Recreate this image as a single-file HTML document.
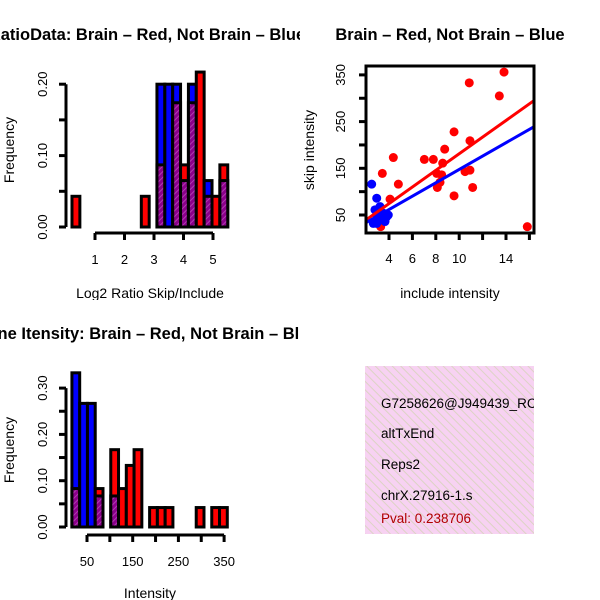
<!DOCTYPE html>
<html><head><meta charset="utf-8">
<style>
html,body{margin:0;padding:0;background:#fff;}
svg{display:block;font-family:"Liberation Sans",sans-serif;}
</style></head>
<body>
<svg id="fig" width="600" height="600" viewBox="0 0 600 600" xmlns="http://www.w3.org/2000/svg">
<defs>
  <pattern id="hatch" patternUnits="userSpaceOnUse" width="4" height="4" patternTransform="rotate(45)">
    <rect width="4" height="4" fill="#8b008b"/>
    <line x1="0" y1="0" x2="0" y2="4" stroke="#b03cb0" stroke-width="2"/>
  </pattern>
  <pattern id="pinkhatch" patternUnits="userSpaceOnUse" width="6" height="6" patternTransform="rotate(-45)">
    <rect width="6" height="6" fill="#f7d2f2"/>
    <line x1="0" y1="0" x2="0" y2="6" stroke="#dcd3c4" stroke-width="2"/>
  </pattern>
  <clipPath id="clipL1"><rect x="0" y="0" width="300" height="300"/></clipPath>
  <clipPath id="clipL2"><rect x="0" y="300" width="300" height="300"/></clipPath>
  <clipPath id="clipSc"><rect x="366" y="66" width="168" height="167"/></clipPath>
  <clipPath id="clipInfo"><rect x="365" y="366" width="169" height="168"/></clipPath>
</defs>
<g id="p1" clip-path="url(#clipL1)"></g>
<g id="p2"></g>
<g id="p3" clip-path="url(#clipL2)"></g>
<g id="p4">
  <rect x="365" y="366" width="169" height="168" fill="url(#pinkhatch)"/>
  <g clip-path="url(#clipInfo)" font-size="13.5">
    <text x="381" y="408" fill="#000">G7258626@J949439_RC</text>
    <text x="381" y="438" fill="#000">altTxEnd</text>
    <text x="381" y="469" fill="#000">Reps2</text>
    <text x="381" y="500" fill="#000">chrX.27916-1.s</text>
    <text x="381" y="523" fill="#b00000">Pval: 0.238706</text>
  </g>
</g>
</svg>
<script>
// ---- Panel 1 data: ratio histogram ----
const ratioBinStarts = [0.22, 2.57, 3.1, 3.367, 3.633, 3.9, 4.167, 4.433, 4.7, 4.967, 5.233];
const ratioBinWidth = 0.267;
const ratioRed  = [0.043, 0.043, 0.087, 0, 0.174, 0.087, 0.174, 0.217, 0.043, 0.043, 0.087];
const ratioBlue = [0, 0, 0.2, 0.2, 0.2, 0.065, 0.2, 0, 0.065, 0, 0.065];
const ratioYTicks = [0, 0.05, 0.10, 0.15, 0.20];
const ratioYLabels = ["0.00", "", "0.10", "", "0.20"];
const ratioXTicks = [1, 2, 3, 4, 5];

// ---- Panel 3 data: intensity histogram ----
const intBinStart = 17;
const intBinWidth = 17;
const intRed  = [0.083, 0, 0, 0.083, 0, 0.167, 0.083, 0.133, 0.167, 0, 0.042, 0.042, 0.042, 0, 0, 0, 0.042, 0, 0.042, 0.042];
const intBlue = [0.333, 0.267, 0.267, 0.067, 0, 0.067, 0, 0, 0, 0, 0, 0, 0, 0, 0, 0, 0, 0, 0, 0];
const intYTicks = [0, 0.05, 0.10, 0.15, 0.20, 0.25, 0.30];
const intYLabels = ["0.00", "", "0.10", "", "0.20", "", "0.30"];
const intXTicks = [50, 100, 150, 200, 250, 300, 350];
const intXLabels = ["50", "", "150", "", "250", "", "350"];

// ---- Panel 2 data: scatter ----
const redX = [3.29, 3.43, 4.37, 4.8, 4.09, 7.02, 7.79, 8.08, 8.59, 8.76, 8.13, 8.36, 8.5, 9.56, 9.56, 10.5, 10.92, 10.92, 10.86, 11.15, 13.43, 13.83, 15.82];
const redY = [25, 139, 173, 116, 84, 169, 169, 139, 161, 191, 109, 120, 136, 228, 91, 143, 146, 209, 333, 109, 305, 356, 25];
const blueX = [2.52, 2.95, 2.8, 3.23, 3.51, 3.8, 2.66, 3.09, 3.66, 3.94, 3.37, 2.95, 3.51, 3.2, 3.0];
const blueY = [116, 86, 61, 68, 54, 46, 32, 39, 36, 50, 46, 32, 39, 55, 45];
const redFit = [3.2, 17.8];   // intercept, slope
const blueFit = [4.45, 14.31];
const scXTicks = [4, 6, 8, 10, 12, 14, 16];
const scXLabels = ["4", "6", "8", "10", "", "14", ""];
const scYTicks = [50, 100, 150, 200, 250, 300, 350];
const scYLabels = ["50", "", "150", "", "250", "", "350"];

const NS = "http://www.w3.org/2000/svg";
const TICKFS = 13, AXFS = 14, TITLEFS = 16.5;
function mk(parent, tag, attrs, text) {
  const e = document.createElementNS(NS, tag);
  for (const k in attrs) e.setAttribute(k, attrs[k]);
  if (text !== undefined) e.textContent = text;
  parent.appendChild(e);
  return e;
}

function drawHist(g, starts, width, red, blue, xf, yf) {
  for (let i = 0; i < red.length; i++) {
    const x0 = xf(starts[i]), x1 = xf(starts[i] + width);
    const r = red[i], b = blue[i];
    const mx = Math.max(r, b), mn = Math.min(r, b);
    if (mx <= 0) continue;
    const col = r >= b ? "#ff0000" : "#0000ff";
    const bar = mk(g, "rect", {x: x0, y: yf(mx), width: x1 - x0, height: yf(0) - yf(mx), fill: col, stroke: "#000", "stroke-width": 3});
    
    
    if (mn > 0) {
      const ov = mk(g, "rect", {x: x0, y: yf(mn), width: x1 - x0, height: yf(0) - yf(mn), fill: "url(#hatch)", stroke: "#000", "stroke-width": 3});
      
      
    }
  }
}

function yAxis(g, xpos, ticks, labels, yf, tl) {
  const ax = mk(g, "line", {x1: xpos, x2: xpos, y1: yf(ticks[0]), y2: yf(ticks[ticks.length-1]), stroke: "#000", "stroke-width": 3});
  
  
  ticks.forEach((t, i) => {
    mk(g, "line", {x1: xpos - tl, x2: xpos, y1: yf(t), y2: yf(t), stroke: "#000", "stroke-width": 3});
    if (labels[i]) {
      const tx = mk(g, "text", {x: xpos - 19, y: yf(t), "font-size": TICKFS, "text-anchor": "middle", transform: `rotate(-90 ${xpos-19} ${yf(t)})`}, labels[i]);
      
      
    }
  });
}
function xAxis(g, ypos, ticks, labels, xf, tl) {
  const ax = mk(g, "line", {x1: xf(ticks[0]), x2: xf(ticks[ticks.length-1]), y1: ypos, y2: ypos, stroke: "#000", "stroke-width": 3});
  
  
  ticks.forEach((t, i) => {
    mk(g, "line", {x1: xf(t), x2: xf(t), y1: ypos, y2: ypos + tl, stroke: "#000", "stroke-width": 3});
    if (labels[i]) {
      const tx = mk(g, "text", {x: xf(t), y: ypos + 31, "font-size": TICKFS, "text-anchor": "middle"}, labels[i]);
      
      
    }
  });
}

// Panel 1
(function(){
  const g = document.getElementById("p1");
  const xf = v => 95 + (v - 1) * 29.5;
  const yf = v => 227 - v * 714;
  drawHist(g, ratioBinStarts, ratioBinWidth, ratioRed, ratioBlue, xf, yf);
  yAxis(g, 66, ratioYTicks, ratioYLabels, yf, 7);
  xAxis(g, 233, ratioXTicks, ratioXTicks.map(String), xf, 7);
  let t = mk(g, "text", {x: 147, y: 40, "font-size": TITLEFS, "font-weight": "bold", "text-anchor": "middle"}, "RatioData: Brain \u2013 Red, Not Brain \u2013 Blue");
   
  t = mk(g, "text", {x: 150, y: 298, "font-size": AXFS, "text-anchor": "middle"}, "Log2 Ratio Skip/Include");
   
  t = mk(g, "text", {x: 14, y: 150, "font-size": AXFS, "text-anchor": "middle", transform: "rotate(-90 14 150)"}, "Frequency");
   
})();

// Panel 3
(function(){
  const g = document.getElementById("p3");
  const xf = v => 87 + (v - 50) * 0.457;
  const yf = v => 527 - v * 463;
  const starts = intRed.map((_, i) => intBinStart + i * intBinWidth);
  drawHist(g, starts, intBinWidth, intRed, intBlue, xf, yf);
  yAxis(g, 66, intYTicks, intYLabels, yf, 7);
  xAxis(g, 535, intXTicks, intXLabels, xf, 7);
  let t = mk(g, "text", {x: 147, y: 339, "font-size": TITLEFS, "font-weight": "bold", "text-anchor": "middle"}, "Gene Itensity: Brain \u2013 Red, Not Brain \u2013 Blue");
   
  t = mk(g, "text", {x: 150, y: 598, "font-size": AXFS, "text-anchor": "middle"}, "Intensity");
   
  t = mk(g, "text", {x: 14, y: 450, "font-size": AXFS, "text-anchor": "middle", transform: "rotate(-90 14 450)"}, "Frequency");
   
})();

// Panel 2 scatter
(function(){
  const g = document.getElementById("p2");
  const xf = v => 389 + (v - 4) * 11.7;
  const yf = v => 215 - (v - 50) * 0.467;
  const pts = mk(g, "g", {"clip-path": "url(#clipSc)"});
  redX.forEach((x, i) => {
    const c = mk(pts, "circle", {cx: xf(x), cy: yf(redY[i]), r: 4.5, fill: "#ff0000"});
    
    
  });
  blueX.forEach((x, i) => {
    const c = mk(pts, "circle", {cx: xf(x), cy: yf(blueY[i]), r: 4.5, fill: "#0000ff"});
    
    
  });
  const xa = 1.5, xb = 17;
  let l = mk(pts, "line", {x1: xf(xa), y1: yf(redFit[0] + redFit[1]*xa), x2: xf(xb), y2: yf(redFit[0] + redFit[1]*xb), stroke: "#ff0000", "stroke-width": 3});
   
  l = mk(pts, "line", {x1: xf(xa), y1: yf(blueFit[0] + blueFit[1]*xa), x2: xf(xb), y2: yf(blueFit[0] + blueFit[1]*xb), stroke: "#0000ff", "stroke-width": 3});
   
  const box = mk(g, "rect", {x: 366, y: 66, width: 168, height: 167, fill: "none", stroke: "#000", "stroke-width": 3});
   
  scYTicks.forEach((t, i) => {
    mk(g, "line", {x1: 359, x2: 366, y1: yf(t), y2: yf(t), stroke: "#000", "stroke-width": 3});
    if (scYLabels[i]) {
      const tx = mk(g, "text", {x: 345, y: yf(t), "font-size": TICKFS, "text-anchor": "middle", transform: `rotate(-90 345 ${yf(t)})`}, scYLabels[i]);
       
    }
  });
  scXTicks.forEach((t, i) => {
    mk(g, "line", {x1: xf(t), x2: xf(t), y1: 233, y2: 240, stroke: "#000", "stroke-width": 3});
    if (scXLabels[i]) {
      const tx = mk(g, "text", {x: xf(t), y: 263, "font-size": TICKFS, "text-anchor": "middle"}, scXLabels[i]);
       
    }
  });
  let t = mk(g, "text", {x: 450, y: 40, "font-size": TITLEFS, "font-weight": "bold", "text-anchor": "middle"}, "Brain \u2013 Red, Not Brain \u2013 Blue");
   
  t = mk(g, "text", {x: 450, y: 298, "font-size": AXFS, "text-anchor": "middle"}, "include intensity");
   
  t = mk(g, "text", {x: 314, y: 150, "font-size": AXFS, "text-anchor": "middle", transform: "rotate(-90 314 150)"}, "skip intensity");
   
})();
</script>
</body></html>
